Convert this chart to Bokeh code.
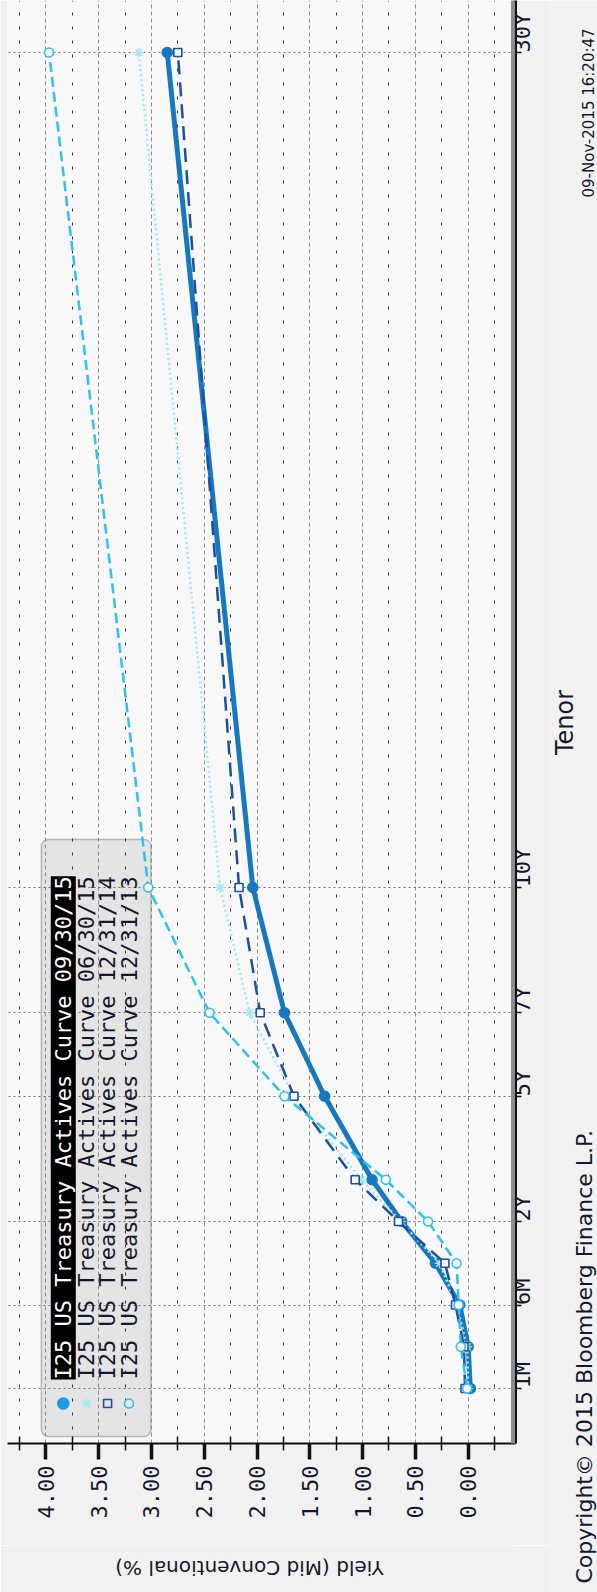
import math
from bokeh.plotting import figure
from bokeh.layouts import row, column
from bokeh.models import Range1d, FixedTicker, PrintfTickFormatter, Label, BoxAnnotation
from bokeh.embed import file_html
from bokeh.resources import INLINE

# ---------------- data ----------------
tenor_labels = ["1M", "3M", "6M", "1Y", "2Y", "3Y", "5Y", "7Y", "10Y", "30Y"]
# Bloomberg tenor scale: one step per tenor up to 3Y, then linear in years
tenor_axis_units = [-2, -1, 0, 1, 2, 3, 5, 7, 10, 30]
tick_tenors = ["1M", "6M", "2Y", "5Y", "7Y", "10Y", "30Y"]

yield_ticks = [0.0, 0.5, 1.0, 1.5, 2.0, 2.5, 3.0, 3.5, 4.0]
yield_minor_ticks = [-0.25, 0.25, 0.75, 1.25, 1.75, 2.25, 2.75, 3.25, 3.75, 4.25]

series_labels = [
    "I25 US Treasury Actives Curve 09/30/15",
    "I25 US Treasury Actives Curve 06/30/15",
    "I25 US Treasury Actives Curve 12/31/14",
    "I25 US Treasury Actives Curve 12/31/13",
]
curve_2015_09_30 = [-0.02, 0.00, 0.08, 0.31, 0.63, 0.91, 1.36, 1.74, 2.04, 2.85]
curve_2015_06_30 = [0.00, 0.01, 0.11, 0.27, 0.64, 1.01, 1.65, 2.07, 2.35, 3.12]
curve_2014_12_31 = [0.03, 0.04, 0.12, 0.22, 0.66, 1.07, 1.65, 1.97, 2.17, 2.75]
curve_2013_12_31 = [0.01, 0.07, 0.09, 0.11, 0.38, 0.78, 1.74, 2.45, 3.03, 3.97]

x_title = "Yield (Mid Conventional %)"
y_title = "Tenor"
stamp = "09-Nov-2015 16:20:47"
copyright_text = "Copyright\u00a9 2015 Bloomberg Finance L.P."

# ---------------- layout (page pixels) ----------------
PAGE_W, PAGE_H = 597, 1592
MAIN_W, MAIN_H = 550, 1545                 # main chart panel
FRAME_L, FRAME_R, FRAME_T, FRAME_B = 7, 517, 0, 1443
ZERO_PX, PX_PER_PCT = 469.5, 106.0          # yield axis (runs right-to-left)
T30_PX, PX_PER_UNIT = 52.0, 41.75           # tenor axis (runs bottom-to-top)

XL = (ZERO_PX - FRAME_L) / PX_PER_PCT
XR = (ZERO_PX - FRAME_R) / PX_PER_PCT
YT = 30 + (T30_PX - FRAME_T) / PX_PER_UNIT
YB = 30 - (FRAME_B - T30_PX) / PX_PER_UNIT


def px2x(px):
    return XL + (px - FRAME_L) * (XR - XL) / (FRAME_R - FRAME_L)


def py2y(py):
    return YT + (py - FRAME_T) * (YB - YT) / (FRAME_B - FRAME_T)


MONO = "DejaVu Sans Mono"
SANS = "DejaVu Sans"
INK = "#16162c"
BORDER = "#f1f1f1"

p = figure(
    width=MAIN_W, height=MAIN_H,
    x_range=Range1d(XL, XR), y_range=Range1d(YB, YT),
    x_axis_location="below", y_axis_location="right",
    min_border_left=FRAME_L, min_border_top=FRAME_T,
    min_border_right=MAIN_W - FRAME_R, min_border_bottom=MAIN_H - FRAME_B,
    output_backend="svg", toolbar_location=None,
    background_fill_color="#f8f8f8", border_fill_color=BORDER,
)
p.outline_line_color = None

# ---- yield axis (bottom) ----
xa = p.xaxis[0]
xa.ticker = FixedTicker(ticks=yield_ticks, minor_ticks=yield_minor_ticks)
xa.formatter = PrintfTickFormatter(format="%.2f")
xa.axis_line_color = "#111111"
xa.axis_line_width = 2
xa.major_tick_in = 0
xa.major_tick_out = 16
xa.major_tick_line_width = 3.5
xa.major_tick_line_color = "#111111"
xa.minor_tick_in = 7
xa.minor_tick_out = 7
xa.minor_tick_line_color = "#111111"
xa.minor_tick_line_width = 1.5
xa.major_label_orientation = math.pi / 2
xa.major_label_standoff = 6
xa.major_label_text_font = MONO
xa.major_label_text_font_size = "22px"
xa.major_label_text_color = INK

# ---- tenor axis (right) ----
tick_units = [tenor_axis_units[tenor_labels.index(t)] for t in tick_tenors]
ya = p.yaxis[0]
ya.ticker = FixedTicker(ticks=tick_units, minor_ticks=[])
ya.major_label_overrides = {u: t for u, t in zip(tick_units, tick_tenors)}
ya.axis_line_color = "#111111"
ya.axis_line_width = 3
ya.major_tick_in = 0
ya.major_tick_out = 6
ya.major_tick_line_color = "#111111"
ya.major_tick_line_width = 1.5
ya.minor_tick_line_color = None
ya.major_label_orientation = math.pi / 2
ya.major_label_standoff = 1
ya.major_label_text_font = MONO
ya.major_label_text_font_size = "22px"
ya.major_label_text_color = INK

# ---- legend box (under the grid, as in the reference) ----
legend_box = BoxAnnotation(left=px2x(41), right=px2x(151), top=py2y(839), bottom=py2y(1436),
                           fill_color="#e4e4e4", fill_alpha=1.0, line_color="#3a3a3a",
                           line_width=1.5, border_radius=7, level="underlay")
p.center = [legend_box] + list(p.center)

# ---- grids ----
p.xgrid.grid_line_color = "#8a8a8a"
p.xgrid.grid_line_dash = "4 3"
p.xgrid.grid_line_width = 1
p.xgrid.minor_grid_line_color = "#333333"
p.xgrid.minor_grid_line_dash = "3 11"
p.xgrid.minor_grid_line_width = 1
p.ygrid.grid_line_color = "#6f6f6f"
p.ygrid.grid_line_dash = "2 3"
p.ygrid.grid_line_width = 1

# separator band beside the tenor axis
p.add_layout(BoxAnnotation(left=px2x(512.5), right=px2x(516.5), top=py2y(-5), bottom=py2y(1600),
                           fill_color="#8c8c8c", fill_alpha=1.0, line_color=None))

# ---- series ----
styles = [
    dict(color="#1679bf", width=5, dash="solid", marker="circle", size=10, fill="#1679bf"),
    dict(color="#a3e7f2", width=2.5, dash="2 3", marker="asterisk", size=10, fill=None),
    dict(color="#1c4f9e", width=2.5, dash="14 8", marker="square", size=8, fill="#f8f8f8"),
    dict(color="#2ec0ee", width=2.5, dash="10 5", marker="circle", size=9, fill="#f8f8f8"),
]
curves = [curve_2015_09_30, curve_2015_06_30, curve_2014_12_31, curve_2013_12_31]

for ys, st in zip(curves, styles):
    p.line(x=ys, y=tenor_axis_units, line_color=st["color"], line_width=st["width"],
           line_dash=st["dash"])
    p.scatter(x=ys, y=tenor_axis_units, marker=st["marker"], size=st["size"],
              line_color=st["color"], line_width=1.6,
              fill_color=st["fill"], fill_alpha=1.0 if st["fill"] else 0.0)

# ---- legend entries (rotated like the rest of the chart) ----
row_px = [63, 86, 107.5, 129]
for i, (lab, st, rx) in enumerate(zip(series_labels, styles, row_px)):
    lbl_kw = dict(text_color="white", background_fill_color="black") if i == 0 else dict(text_color=INK)
    p.add_layout(Label(x=px2x(rx), y=py2y(1379), text=lab, angle=math.pi / 2,
                       text_align="left", text_baseline="middle", text_font=MONO,
                       text_font_size="22px", **lbl_kw))
    mk_col = "#1e9be6" if i == 0 else st["color"]
    mk_fill = "#1e9be6" if i == 0 else None
    p.scatter(x=[px2x(rx)], y=[py2y(1403)], marker=st["marker"], size=st["size"] if i else 11,
              line_color=mk_col, line_width=1.6,
              fill_color=mk_fill, fill_alpha=1.0 if mk_fill else 0.0)


# ---------------- side panels holding the outer texts ----------------
def text_panel(x0, x1, y0, y1):
    f = figure(width=x1 - x0, height=y1 - y0,
               x_range=Range1d(x0, x1), y_range=Range1d(y1, y0),
               x_axis_location=None, y_axis_location=None,
               min_border=0, output_backend="svg", toolbar_location=None,
               background_fill_color=BORDER, border_fill_color=BORDER)
    f.outline_line_color = None
    f.grid.visible = False
    return f


def txt(f, px, py, s, size, font=SANS, angle=math.pi / 2, align="center", color=INK):
    f.add_layout(Label(x=px, y=py, text=s, angle=angle, text_align=align,
                       text_baseline="middle", text_font=font, text_font_size=f"{size}px",
                       text_color=color))


bottom_panel = text_panel(0, MAIN_W, MAIN_H, PAGE_H)
txt(bottom_panel, 262, 1567, x_title, 20, angle=math.pi)

side_panel = text_panel(MAIN_W, PAGE_W, 0, PAGE_H)
txt(side_panel, 564.5, 722, y_title, 24)
txt(side_panel, 588, 197, stamp, 15, align="left")
txt(side_panel, 584, 1583, copyright_text, 22, align="left")

layout = row(column(p, bottom_panel), side_panel)

open("out.html", "w").write(file_html(layout, INLINE))
